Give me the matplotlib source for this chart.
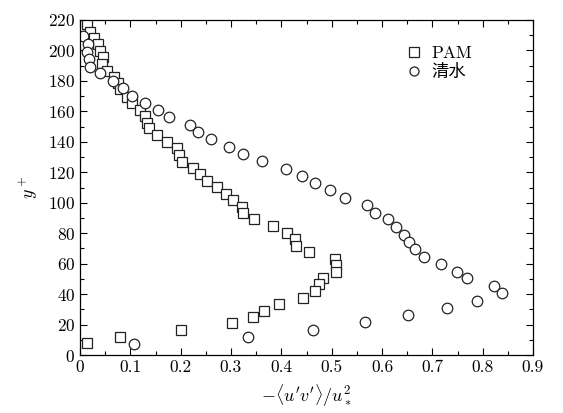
import matplotlib
matplotlib.use('Agg')
import matplotlib.pyplot as plt
from matplotlib.ticker import MultipleLocator

plt.rcParams['font.family'] = ['cmr10', 'Noto Sans CJK SC', 'DejaVu Sans']
plt.rcParams['mathtext.fontset'] = 'cm'
plt.rcParams['axes.unicode_minus'] = False
plt.rcParams['axes.formatter.use_mathtext'] = True

# PAM (squares)
pam_x = [0.013, 0.020, 0.028, 0.035, 0.040, 0.046, 0.043, 0.053, 0.068, 0.075,
         0.079, 0.093, 0.104, 0.119, 0.129, 0.134, 0.137, 0.152, 0.172, 0.192,
         0.196, 0.202, 0.225, 0.238, 0.253, 0.273, 0.290, 0.304, 0.321, 0.323,
         0.346, 0.384, 0.411, 0.427, 0.430, 0.454, 0.506, 0.508, 0.508, 0.483,
         0.475, 0.467, 0.444, 0.395, 0.365, 0.344, 0.301, 0.200, 0.079, 0.0145]
pam_y = [217.4, 212.3, 208.0, 204.2, 199.8, 195.5, 191.1, 186.7, 182.8, 178.4,
         174.5, 169.6, 165.7, 160.9, 157.0, 152.6, 148.9, 144.5, 140.1, 135.7,
         131.3, 126.9, 122.6, 118.9, 114.5, 110.1, 105.9, 101.8, 97.4, 93.0,
         89.1, 84.7, 80.3, 76.0, 71.8, 67.6, 63.2, 58.9, 54.5, 50.4,
         46.4, 42.0, 37.6, 33.5, 29.1, 24.7, 20.8, 16.2, 12.0, 7.7]

# 清水 (circles)
water_x = [0.005, 0.016, 0.013, 0.018, 0.020, 0.040, 0.066, 0.086, 0.104, 0.130,
           0.154, 0.177, 0.218, 0.235, 0.261, 0.296, 0.323, 0.362, 0.410, 0.441,
           0.466, 0.497, 0.527, 0.570, 0.587, 0.612, 0.628, 0.643, 0.653, 0.665,
           0.683, 0.718, 0.749, 0.768, 0.823, 0.839, 0.789, 0.729, 0.651, 0.567,
           0.462, 0.333, 0.107]
water_y = [209.5, 204.2, 199.2, 194.2, 189.3, 185.0, 180.2, 175.1, 170.3, 165.7,
           160.9, 156.1, 151.0, 146.3, 141.6, 136.8, 132.0, 127.4, 122.4, 117.4,
           112.8, 108.2, 103.1, 98.3, 93.5, 89.0, 83.9, 78.8, 74.0, 69.4,
           64.6, 59.8, 54.7, 50.3, 45.3, 40.5, 35.7, 31.1, 26.1, 21.5,
           16.4, 11.6, 7.0]

fig = plt.figure(figsize=(5.63, 4.13), dpi=100)
ax = fig.add_axes([80 / 563, 1 - 355 / 413, 453 / 563, 335 / 413])

ax.plot(pam_x, pam_y, 's', ms=7, mfc='white', mec='#222222', mew=0.9, label='PAM')
ax.plot(water_x, water_y, 'o', ms=7.6, mfc='white', mec='#222222', mew=0.9, label='清水')

ax.set_xlim(0, 0.9)
ax.set_ylim(0, 220)
ax.xaxis.set_major_locator(MultipleLocator(0.1))
ax.xaxis.set_minor_locator(MultipleLocator(0.05))
ax.yaxis.set_major_locator(MultipleLocator(20))
ax.yaxis.set_minor_locator(MultipleLocator(10))
ax.tick_params(which='both', direction='in', top=True, right=True, labelsize=12.5, width=0.8)
ax.tick_params(which='major', length=5)
ax.tick_params(which='minor', length=3)
ax.set_xticks([0, 0.1, 0.2, 0.3, 0.4, 0.5, 0.6, 0.7, 0.8, 0.9])
ax.set_xticklabels(['0', '0.1', '0.2', '0.3', '0.4', '0.5', '0.6', '0.7', '0.8', '0.9'])
for s in ax.spines.values():
    s.set_linewidth(0.9)

ax.set_xlabel(r"$-\langle u'v'\rangle/u_*^2$", fontsize=13, labelpad=5)
ax.set_ylabel(r"$y^+$", fontsize=13, labelpad=6)

leg = ax.legend(loc='upper left', bbox_to_anchor=(0.70, 0.945), frameon=False,
                fontsize=12.5, handletextpad=0.4, labelspacing=0.2, handlelength=1.2,
                borderaxespad=0)
for h in leg.legend_handles:
    h.set_markersize(6.5)

fig.savefig('out.png', dpi=100)
